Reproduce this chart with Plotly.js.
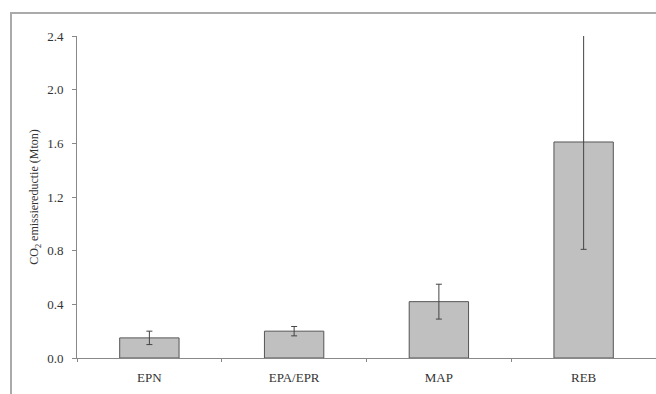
<!DOCTYPE html>
<html>
<head>
<meta charset="utf-8">
<script src="https://cdn.plot.ly/plotly-3.0.1.min.js"></script>
<style>
html,body{margin:0;padding:0;background:#fff;}
#chart{width:656px;height:394px;}
</style>
</head>
<body>
<div id="chart"></div>
<script>
const categories = ["EPN", "EPA/EPR", "MAP", "REB"];
const values = [0.15, 0.20, 0.42, 1.61];
const errors = [0.05, 0.035, 0.13, 0.80];
const yTickVals = [0, 0.4, 0.8, 1.2, 1.6, 2.0, 2.4];
const yTickText = ["0.0", "0.4", "0.8", "1.2", "1.6", "2.0", "2.4"];

const W = 656, H = 394;
const mL = 77, mR = 0, mT = 36, mB = 36;
const pw = W - mL - mR, ph = H - mT - mB;
function px2x(px){ return (px - mL) / pw; }
function py2y(py){ return (H - mB - py) / ph; }

const FONT = "Liberation Serif";

const trace = {
  type: "bar",
  x: categories,
  y: values,
  marker: { color: "#c0c0c0", line: { color: "#555555", width: 1 } },
  error_y: { type: "data", array: errors, visible: true, color: "#444444", thickness: 1, width: 3 },
  width: 0.41,
  hoverinfo: "none"
};

const layout = {
  width: W, height: H,
  margin: { l: mL, r: mR, t: mT, b: mB, pad: 0 },
  paper_bgcolor: "#ffffff",
  plot_bgcolor: "#ffffff",
  showlegend: false,
  font: { family: FONT, size: 13, color: "#333333" },
  xaxis: {
    type: "category",
    range: [-0.5, 3.5],
    showline: true, linecolor: "#888888", linewidth: 1,
    ticks: "outside", ticklen: 3, tickcolor: "#888888", tickson: "boundaries",
    ticklabelstandoff: 7,
    showgrid: false, zeroline: false,
    tickfont: { family: FONT, size: 13, color: "#333333" }
  },
  yaxis: {
    range: [0, 2.4],
    tickvals: yTickVals, ticktext: yTickText,
    showline: true, linecolor: "#888888", linewidth: 1,
    ticks: "outside", ticklen: 4, tickcolor: "#888888",
    ticklabelstandoff: 6,
    showgrid: false, zeroline: false,
    tickfont: { family: FONT, size: 13, color: "#333333" },
    title: { text: "CO<sub>2</sub> emissiereductie (Mton)", standoff: 5,
             font: { family: FONT, size: 12, color: "#333333" } }
  },
  shapes: [
    { type: "line", xref: "paper", yref: "paper", x0: px2x(11), x1: px2x(11), y0: py2y(13), y1: py2y(400),
      line: { color: "#aaaaaa", width: 2 } },
    { type: "line", xref: "paper", yref: "paper", x0: px2x(10), x1: px2x(660), y0: py2y(13), y1: py2y(13),
      line: { color: "#aaaaaa", width: 2 } }
  ]
};

Plotly.newPlot("chart", [trace], layout, { displayModeBar: false, staticPlot: true });
</script>
</body>
</html>
